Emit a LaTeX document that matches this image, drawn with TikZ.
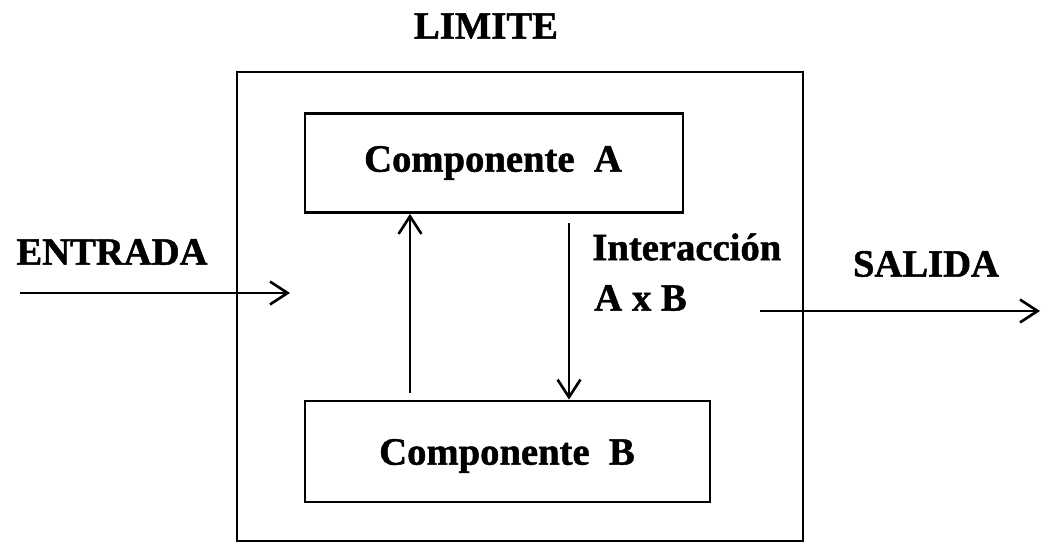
\documentclass[tikz,border=0pt]{standalone}
\usepackage{fontspec}
\setmainfont{Liberation Serif}[BoldFeatures={FakeBold=1.2}]
\usetikzlibrary{arrows.meta}
\begin{document}
\begin{tikzpicture}[x=0.02cm,y=-0.02cm,
  box/.style={draw,line width=1.6pt,rectangle,inner sep=0pt},
  lbl/.style={font=\fontsize{22}{24}\selectfont\bfseries,inner sep=0pt},
  conn/.style={line width=1.5pt,-{Straight Barb[length=10pt,width=13pt,line width=1.5pt]}}]
\useasboundingbox (0,0) rectangle (1042,544);
\node[box,minimum width=566*0.02cm,minimum height=469*0.02cm] (lim) at (520,306.5) {};
\node[box,minimum width=378*0.02cm,minimum height=99*0.02cm] (A) at (494,163) {};
\node[box,minimum width=405*0.02cm,minimum height=101*0.02cm] (B) at (507.5,451.5) {};
\node[lbl] (tA) at (493,163) {Componente\ \ A};
\node[lbl] (tB) at (507,456) {Componente\ \ B};
\node[lbl] (tlim) at (486,26) {LIMITE};
\node[lbl] (tent) at (112,252) {ENTRADA};
\node[lbl] (tsal) at (926,264) {SALIDA};
\node[lbl,anchor=west] (tint) at (592,247) {Interacción};
\node[lbl,anchor=west] (taxb) at (594,298) {A x B};
\coordinate (e0) at (20,293);
\coordinate (e1) at (290,293);
\coordinate (s0) at (760,311);
\coordinate (s1) at (1040,311);
\coordinate (u0) at (410,393);
\coordinate (d0) at (569,223);
\draw[conn] (e0) -- (e1);
\draw[conn] (s0) -- (s1);
\draw[conn] (u0) -- (u0 |- A.south);
\draw[conn] (d0) -- (d0 |- B.north);
\end{tikzpicture}
\end{document}
